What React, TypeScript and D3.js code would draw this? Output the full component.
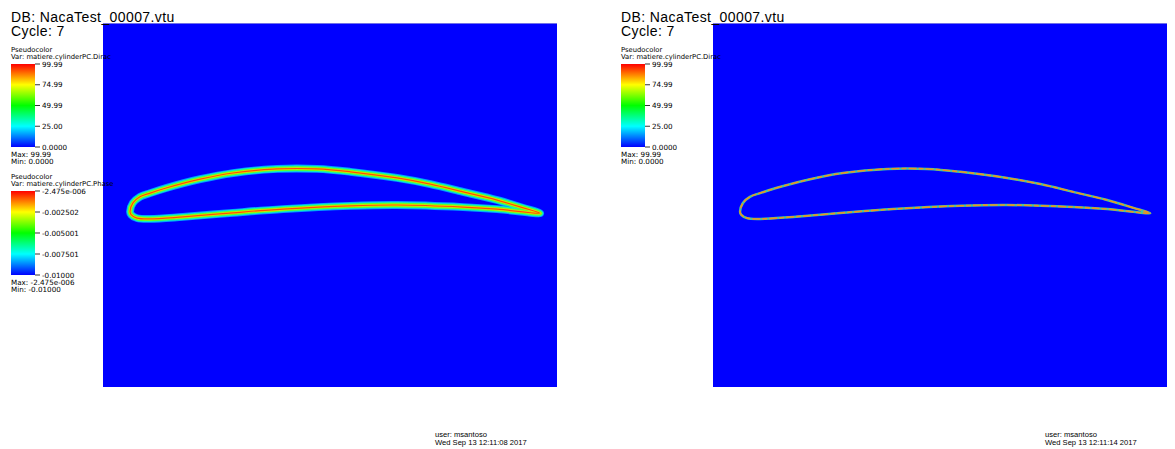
import React from "react";
import * as d3 from "d3";

// Airfoil surfaces (chord units)
const upperX = [0, 0.007, 0.024, 0.049, 0.09, 0.171, 0.251, 0.359, 0.456, 0.537, 0.651, 0.732, 0.812, 0.895, 0.959, 1.0];
const upperY = [0, 0.022, 0.037, 0.046, 0.059, 0.08, 0.095, 0.105, 0.105, 0.098, 0.083, 0.068, 0.049, 0.029, 0.01, -0.003];
const lowerX = [0, 0.003, 0.017, 0.049, 0.129, 0.251, 0.373, 0.537, 0.651, 0.812, 0.895, 1.0];
const lowerY = [0, -0.007, -0.015, -0.017, -0.012, -0.002, 0.007, 0.015, 0.017, 0.012, 0.007, -0.003];

const xDomain = [-0.066, 1.041];
const yDomain = [-0.427, 0.461];

// Legend values
const diracTicks = [99.99, 74.99, 49.99, 25.0, 0.0];
const diracLabels = ["99.99", "74.99", "49.99", "25.00", "0.0000"];
const phaseTicks = [-2.475e-6, -0.002502, -0.005001, -0.007501, -0.01];
const phaseLabels = ["-2.475e-006", "-0.002502", "-0.005001", "-0.007501", "-0.01000"];
const colorStops = ["#0000ff", "#00ffff", "#00ff00", "#ffff00", "#ff0000"];

const FONT = "'Liberation Sans', Arial, sans-serif";
const SMALL = "'DejaVu Sans', Verdana, sans-serif";

function ColorBar({ x, y0, y1, domain, ticks, labels, title, varName, maxText, minText, gid }: any) {
  const sc = d3.scaleLinear().domain(domain).range([y1, y0]);
  return (
    <g fontFamily={SMALL} fill="#000">
      <defs>
        <linearGradient id={gid} x1="0" y1="1" x2="0" y2="0">
          {colorStops.map((c, i) => (
            <stop key={i} offset={i / (colorStops.length - 1)} stopColor={c} />
          ))}
        </linearGradient>
      </defs>
      <text x={x} y={y0 - 12} fontSize={6.8}>{title}</text>
      <text x={x} y={y0 - 5} fontSize={6.8}>{varName}</text>
      <rect x={x} y={y0} width={24} height={y1 - y0} fill={`url(#${gid})`} />
      {ticks.map((t: number, i: number) => (
        <g key={i}>
          <line x1={x + 24} x2={x + 29} y1={sc(t)} y2={sc(t)} stroke="#000" strokeWidth={0.8} />
          <text x={x + 31} y={sc(t) + 2.7} fontSize={7.2}>{labels[i]}</text>
        </g>
      ))}
      <text x={x} y={y1 + 10} fontSize={7.2}>{maxText}</text>
      <text x={x} y={y1 + 17} fontSize={7.2}>{minText}</text>
    </g>
  );
}

function Panel({ x0, thick, time, legendX, showPhase, id }: any) {
  const w = 454, top = 23, bottom = 387;
  const xs = d3.scaleLinear().domain(xDomain).range([x0, x0 + w]);
  const ys = d3.scaleLinear().domain(yDomain).range([bottom, top]);
  const upper: [number, number][] = upperX.map((v, i) => [v, upperY[i]]);
  const lower: [number, number][] = lowerX.map((v, i) => [v, lowerY[i]]);
  const loop = [...upper.slice().reverse(), ...lower.slice(1, lower.length - 1)];
  const line = d3.line<[number, number]>().x((d) => xs(d[0])).y((d) => ys(d[1])).curve(d3.curveCatmullRomClosed.alpha(0.5));
  const dPath = line(loop) || "";
  return (
    <g>
      <defs>
        <filter id={`blur${id}`} x="-10%" y="-10%" width="120%" height="120%">
          <feGaussianBlur stdDeviation={thick ? 0.7 : 0.3} />
        </filter>
      </defs>
      <rect x={x0} y={top} width={w} height={bottom - top} fill="#0000ff" />
      <line x1={x0} x2={x0 + w} y1={top + 0.5} y2={top + 0.5} stroke="#7070e8" strokeWidth={1} />
      <g filter={`url(#blur${id})`} fill="none" strokeLinejoin="round">
        {thick ? (
          <>
            <path d={dPath} stroke="#00a0ff" strokeWidth={7.8} />
            <path d={dPath} stroke="#10f0c0" strokeWidth={6} />
            <path d={dPath} stroke="#60ff20" strokeWidth={4.3} />
            <path d={dPath} stroke="#e0e000" strokeWidth={2.6} />
            <path d={dPath} stroke="#ff5000" strokeWidth={1.2} />
          </>
        ) : (
          <>
            <path d={dPath} stroke="#40c8a0" strokeWidth={2.5} />
            <path d={dPath} stroke="#f09020" strokeWidth={1.6} strokeDasharray="8 2 5 2" />
          </>
        )}
      </g>
      <text x={legendX} y={22} fontSize={14} letterSpacing={0.4} fontFamily={FONT}>DB: NacaTest_00007.vtu</text>
      <text x={legendX} y={36} fontSize={14} letterSpacing={0.4} fontFamily={FONT}>Cycle: 7</text>
      <ColorBar x={legendX} y0={64} y1={147} domain={[0, 99.99]} ticks={diracTicks} labels={diracLabels}
        title="Pseudocolor" varName="Var: matiere.cylinderPC.Dirac" maxText="Max:  99.99" minText="Min:  0.0000" gid={`g1${id}`} />
      {showPhase && (
        <ColorBar x={legendX} y0={191} y1={275} domain={[-0.01, -2.475e-6]} ticks={phaseTicks} labels={phaseLabels}
          title="Pseudocolor" varName="Var: matiere.cylinderPC.Phase" maxText="Max: -2.475e-006" minText="Min: -0.01000" gid={`g2${id}`} />
      )}
      <text x={x0 + 332} y={437} fontSize={7.6} fontFamily={FONT}>user: msantoso</text>
      <text x={x0 + 332} y={445} fontSize={7.6} fontFamily={FONT}>{time}</text>
    </g>
  );
}

export default function App() {
  return (
    <svg width={1175} height={449} style={{ position: "absolute", left: 0, top: 0, background: "#fff" }}>
      <rect width={1175} height={449} fill="#fff" />
      <Panel x0={103} thick={true} time="Wed Sep 13 12:11:08 2017" legendX={11} showPhase={true} id="a" />
      <Panel x0={713} thick={false} time="Wed Sep 13 12:11:14 2017" legendX={621} showPhase={false} id="b" />
    </svg>
  );
}
